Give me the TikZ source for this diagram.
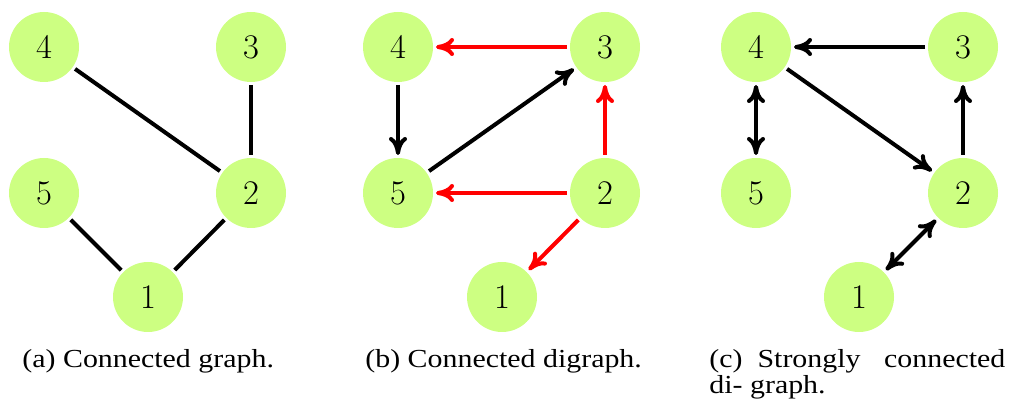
\documentclass[tikz,border=0pt]{standalone}
\usepackage{fontspec}
\setmainfont{Liberation Serif}[FakeStretch=1.15]
\usetikzlibrary{arrows.meta}
\definecolor{nodegreen}{RGB}{205,255,130}
\begin{document}
\begin{tikzpicture}[x=0.5pt,y=-0.5pt,
  vtx/.style={circle,fill=nodegreen,minimum size=35pt,inner sep=0pt,outer sep=1.5pt,font=\fontsize{17}{20}\selectfont},
  edge/.style={line width=2pt,draw=black},
  redge/.style={edge,draw=red},
  tipcm/.tip={Computer Modern Rightarrow[length=9pt,width=9pt]},
  arr/.style={-tipcm},
  darr/.style={tipcm-tipcm},
  captxt/.style={anchor=base west,inner sep=0pt,font=\fontsize{13}{15}\selectfont}]
\useasboundingbox (0,0) rectangle (1011,410);
% (a)
\node[vtx] (a4) at (44,47) {$4$};
\node[vtx] (a3) at (251,47) {$3$};
\node[vtx] (a5) at (44,193) {$5$};
\node[vtx] (a2) at (251,193) {$2$};
\node[vtx] (a1) at (148,297) {$1$};
\draw[edge] (a4) -- (a2);
\draw[edge] (a3) -- (a2);
\draw[edge] (a5) -- (a1);
\draw[edge] (a2) -- (a1);
% (b)
\node[vtx] (b4) at (398,47) {$4$};
\node[vtx] (b3) at (605,47) {$3$};
\node[vtx] (b5) at (398,193) {$5$};
\node[vtx] (b2) at (605,193) {$2$};
\node[vtx] (b1) at (502,297) {$1$};
\draw[redge,arr] (b3) -- (b4);
\draw[edge,arr] (b4) -- (b5);
\draw[edge,arr] (b5) -- (b3);
\draw[redge,arr] (b2) -- (b3);
\draw[redge,arr] (b2) -- (b5);
\draw[redge,arr] (b2) -- (b1);
% (c)
\node[vtx] (c4) at (756,47) {$4$};
\node[vtx] (c3) at (963,47) {$3$};
\node[vtx] (c5) at (756,193) {$5$};
\node[vtx] (c2) at (963,193) {$2$};
\node[vtx] (c1) at (859,297) {$1$};
\draw[edge,arr] (c3) -- (c4);
\draw[edge,darr] (c4) -- (c5);
\draw[edge,arr] (c4) -- (c2);
\draw[edge,arr] (c2) -- (c3);
\draw[edge,darr] (c1) -- (c2);
% captions
\node[captxt] (capa) at (22,368) {(a) Connected graph.};
\node[captxt] (capb) at (365,368) {(b) Connected digraph.};
\node[captxt] (capc1) at (709,368) {\makebox[148pt][l]{(c)\hspace{7.5pt}Strongly\hfill connected}};
\node[captxt] (capc2) at (709,394) {di- graph.};
\end{tikzpicture}
\end{document}
